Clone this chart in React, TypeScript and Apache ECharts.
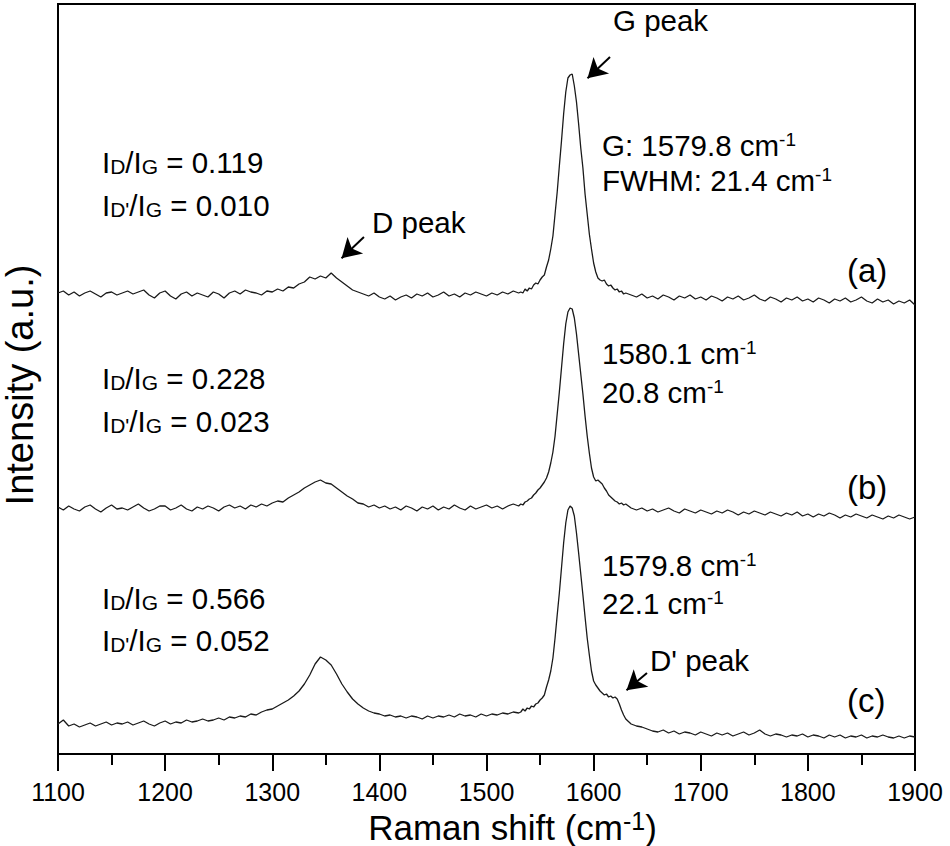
import React, { useEffect, useRef } from "react";
import * as echarts from "echarts";

const FONT = "'Liberation Sans', Arial, Helvetica, sans-serif";

// Raman shift sampling grid (cm-1): coarse in the baseline, fine across the G band
const range = (a: number, b: number, s: number) => {
  const r: number[] = [];
  for (let x = a; x <= b; x += s) r.push(x);
  return r;
};
const SHIFT: number[] = [...range(1100, 1530, 5), ...range(1532, 1630, 2), ...range(1635, 1900, 5)];

// Intensities (a.u., stacked with offsets as in the figure)
const SPEC_A: number[] = [
  461, 463, 459, 462, 458, 461, 463, 460, 457, 461,
  462, 459, 461, 463, 460, 462, 464, 459, 456, 461,
  463, 458, 455, 460, 462, 458, 461, 459, 457, 462,
  460, 456, 461, 463, 460, 464, 462, 461, 459, 463,
  462, 465, 463, 467, 466, 470, 472, 477, 475, 478,
  476, 481, 476, 472, 468, 464, 462, 460, 458, 461,
  457, 455, 458, 454, 457, 459, 456, 460, 458, 461,
  457, 459, 462, 458, 460, 457, 461, 459, 462, 460,
  458, 461, 459, 462, 460, 463, 461,
  462, 461, 465, 463, 466, 465, 469, 471, 470, 474,
  477, 479, 487, 494, 505, 518, 540, 562, 588, 613,
  640, 662, 676, 679, 680, 668, 652, 630, 606, 586,
  560, 540, 520, 505, 491, 482, 476, 474, 473, 474,
  470, 468, 469, 466, 464, 465, 462, 463, 460, 461,
  459, 457, 460, 456, 458, 455, 459, 457, 454, 458,
  456, 459, 455, 457, 454, 458, 456, 453, 457, 455,
  458, 454, 456, 459, 455, 453, 457, 455, 452, 456,
  454, 457, 453, 455, 452, 456, 454, 451, 455, 453,
  456, 452, 454, 457, 453, 451, 455, 452, 454, 450,
  453, 451, 454, 449,
];

const SPEC_B: number[] = [
  247, 244, 248, 245, 243, 247, 249, 245, 242, 246,
  249, 245, 246, 244, 247, 250, 246, 243, 245, 248,
  248, 244, 246, 249, 245, 243, 247, 245, 248, 246,
  243, 247, 249, 246, 248, 245, 249, 247, 250, 248,
  251, 253, 252, 256, 259, 262, 266, 269, 272, 274,
  271, 270, 266, 262, 258, 255, 251, 250, 247, 249,
  246, 248, 245, 247, 244, 248, 246, 243, 247, 245,
  248, 244, 247, 245, 249, 246, 244, 248, 245, 247,
  249, 246, 248, 245, 248, 250, 248,
  250, 249, 252, 253, 255, 256, 259, 261, 264, 266,
  269, 272, 276, 282, 291, 302, 318, 340, 362, 386,
  410, 430, 442, 446, 445, 436, 420, 400, 380, 360,
  338, 318, 301, 286, 277, 273, 274, 272, 270, 266,
  263, 259, 257, 255, 253, 252, 250, 251, 249, 250,
  246, 244, 246, 243, 245, 242, 244, 246, 243, 241,
  245, 243, 241, 244, 242, 240, 243, 241, 244, 242,
  239, 242, 240, 243, 241, 239, 242, 240, 238, 241,
  239, 242, 238, 240, 237, 240, 238, 241, 239, 236,
  239, 237, 240, 238, 236, 239, 237, 235, 238, 236,
  239, 237, 235, 237,
];

const SPEC_C: number[] = [
  30, 34, 28, 30, 27, 29, 31, 28, 30, 32,
  29, 31, 30, 32, 29, 31, 33, 30, 28, 31,
  33, 30, 32, 31, 34, 32, 33, 35, 33, 34,
  36, 34, 37, 36, 38, 37, 40, 39, 42, 44,
  45, 48, 51, 54, 58, 63, 70, 79, 90, 97,
  94, 89, 80, 70, 62, 55, 50, 46, 43, 41,
  40, 38, 39, 37, 38, 36, 38, 37, 35, 38,
  36, 38, 37, 39, 37, 40, 38, 39, 37, 40,
  38, 40, 39, 41, 40, 42, 41,
  42, 45, 43, 46, 45, 48, 47, 50, 51, 54,
  56, 59, 67, 74, 83, 96, 116, 139, 161, 186,
  211, 231, 244, 248, 246, 238, 221, 201, 180, 159,
  137, 116, 99, 83, 73, 69, 66, 63, 61, 59,
  60, 57, 58, 56, 57, 55, 50, 44, 39, 35,
  30, 28, 27, 25, 23, 22, 24, 21, 23, 20,
  22, 21, 19, 22, 20, 18, 21, 19, 21, 18,
  20, 22, 19, 21, 24, 20, 18, 20, 19, 17,
  19, 18, 20, 17, 19, 18, 16, 19, 17, 19,
  16, 18, 17, 19, 16, 18, 17, 19, 17, 16,
  18, 16, 18, 17,
];

const X_TICKS = { min: 1100, max: 1900, step: 100 };
const TAGS = ["(a)", "(b)", "(c)"];
const ID_IG = ["0.119", "0.228", "0.566"];
const IDP_IG = ["0.010", "0.023", "0.052"];
const G_POS = ["1579.8", "1580.1", "1579.8"];
const G_FWHM = ["21.4", "20.8", "22.1"];
const PEAK_NAMES = ["G peak", "D peak", "D' peak"];

// arrows: [tail, head] in data coordinates
const ARROWS: [number, number][][] = [
  [[1615.3, 697], [1594.3, 675.7]],
  [[1385.6, 517], [1364.7, 495.7]],
  [[1649.8, 81], [1630.7, 63.7]],
];

const RICH = {
  n: { fontSize: 29.5, lineHeight: 30, fontFamily: FONT, fill: "#000" },
  t: { fontSize: 33, lineHeight: 34, fontFamily: FONT, fill: "#000" },
  s: { fontSize: 21, lineHeight: 16, verticalAlign: "bottom", fontFamily: FONT, fill: "#000" },
  p: { fontSize: 19, lineHeight: 17, verticalAlign: "top", fontFamily: FONT, fill: "#000" },
};

const txt = (text: string, x: number, y: number) => ({
  type: "text",
  x,
  y,
  silent: true,
  style: {
    text,
    rich: RICH,
    fontSize: 29.5,
    fontFamily: FONT,
    fill: "#000",
    align: "left",
    verticalAlign: "middle",
  },
});

export default function App() {
  const ref = useRef<HTMLDivElement>(null);
  useEffect(() => {
    document.body.style.margin = "0";
    if (!ref.current) return;
    const chart = echarts.init(ref.current, null, { renderer: "svg" });

    const ratioY = [
      [162, 205],
      [378, 421],
      [598, 640],
    ];
    const gY = [
      [145, 180],
      [353, 392],
      [565, 603],
    ];
    const tagY = [270, 487, 700];
    const graphics: any[] = [];
    for (let i = 0; i < 3; i++) {
      graphics.push(txt(`{n|I}{s|D}{n|/I}{s|G}{n| = ${ID_IG[i]}}`, 102, ratioY[i][0]));
      graphics.push(txt(`{n|I}{s|D'}{n|/I}{s|G}{n| = ${IDP_IG[i]}}`, 102, ratioY[i][1]));
      const l1 = i === 0 ? `G: ${G_POS[i]} cm` : `${G_POS[i]} cm`;
      const l2 = i === 0 ? `FWHM: ${G_FWHM[i]} cm` : `${G_FWHM[i]} cm`;
      graphics.push(txt(`{n|${l1}}{p|-1}`, 602, gY[i][0]));
      graphics.push(txt(`{n|${l2}}{p|-1}`, 602, gY[i][1]));
      graphics.push(txt(`{t|${TAGS[i]}}`, 847, tagY[i]));
    }
    graphics.push(txt(`{n|${PEAK_NAMES[0]}}`, 613, 20));
    graphics.push(txt(`{n|${PEAK_NAMES[1]}}`, 372, 222));
    graphics.push(txt(`{n|${PEAK_NAMES[2]}}`, 650, 660));

    const lineSeries = (name: string, vals: number[], extra: any = {}) => ({
      type: "line",
      name,
      data: SHIFT.map((x, i) => [x, vals[i]]),
      showSymbol: false,
      symbol: "none",
      smooth: false,
      silent: true,
      lineStyle: { color: "#1a1a1a", width: 1.3 },
      itemStyle: { color: "#1a1a1a" },
      ...extra,
    });

    chart.setOption({
      animation: false,
      grid: {
        left: 58,
        right: 35,
        top: 4,
        bottom: 92,
        show: true,
        borderColor: "#000",
        borderWidth: 2,
        outerBoundsMode: "none",
      },
      xAxis: {
        type: "value",
        min: X_TICKS.min,
        max: X_TICKS.max,
        interval: X_TICKS.step,
        name: "{n|Raman shift (cm}{p|-1}{n|)}",
        nameLocation: "middle",
        nameGap: 51,
        nameTextStyle: {
          fontSize: 35,
          fontFamily: FONT,
          color: "#000",
          padding: [0, 0, 0, 52],
          rich: {
            n: { fontSize: 35, lineHeight: 38, fontFamily: FONT, color: "#000" },
            p: { fontSize: 25, lineHeight: 28, verticalAlign: "top", fontFamily: FONT, color: "#000" },
          },
        },
        axisLine: { show: true, onZero: false, lineStyle: { color: "#000", width: 2 } },
        axisTick: { show: true, inside: false, length: 17, lineStyle: { color: "#000", width: 2 } },
        minorTick: { show: true, splitNumber: 2, length: 11, lineStyle: { color: "#000", width: 2 } },
        axisLabel: {
          fontSize: 25,
          fontFamily: FONT,
          color: "#000",
          margin: 25,
          formatter: (v: number) => String(v),
        },
        splitLine: { show: false },
      },
      yAxis: {
        type: "value",
        min: 0,
        max: 750,
        name: "Intensity (a.u.)",
        nameLocation: "middle",
        nameRotate: 90,
        nameGap: 19,
        nameTextStyle: { fontSize: 38, fontFamily: FONT, color: "#000", padding: [0, 12, 0, 0] },
        axisLine: { show: false },
        axisTick: { show: false },
        axisLabel: { show: false },
        splitLine: { show: false },
      },
      series: [
        lineSeries("(a)", SPEC_A),
        lineSeries("(b)", SPEC_B),
        lineSeries("(c)", SPEC_C, {
          markLine: {
            silent: true,
            symbol: ["none", "arrow"],
            symbolSize: [17, 19],
            lineStyle: { color: "#000", width: 2, type: "solid" },
            itemStyle: { color: "#000" },
            label: { show: false },
            emphasis: { disabled: true },
            data: ARROWS.map(([a, b]) => [{ coord: a }, { coord: b }]),
          },
        }),
      ],
      graphic: graphics,
    });
    return () => chart.dispose();
  }, []);
  return <div ref={ref} style={{ width: 950, height: 846 }} />;
}
